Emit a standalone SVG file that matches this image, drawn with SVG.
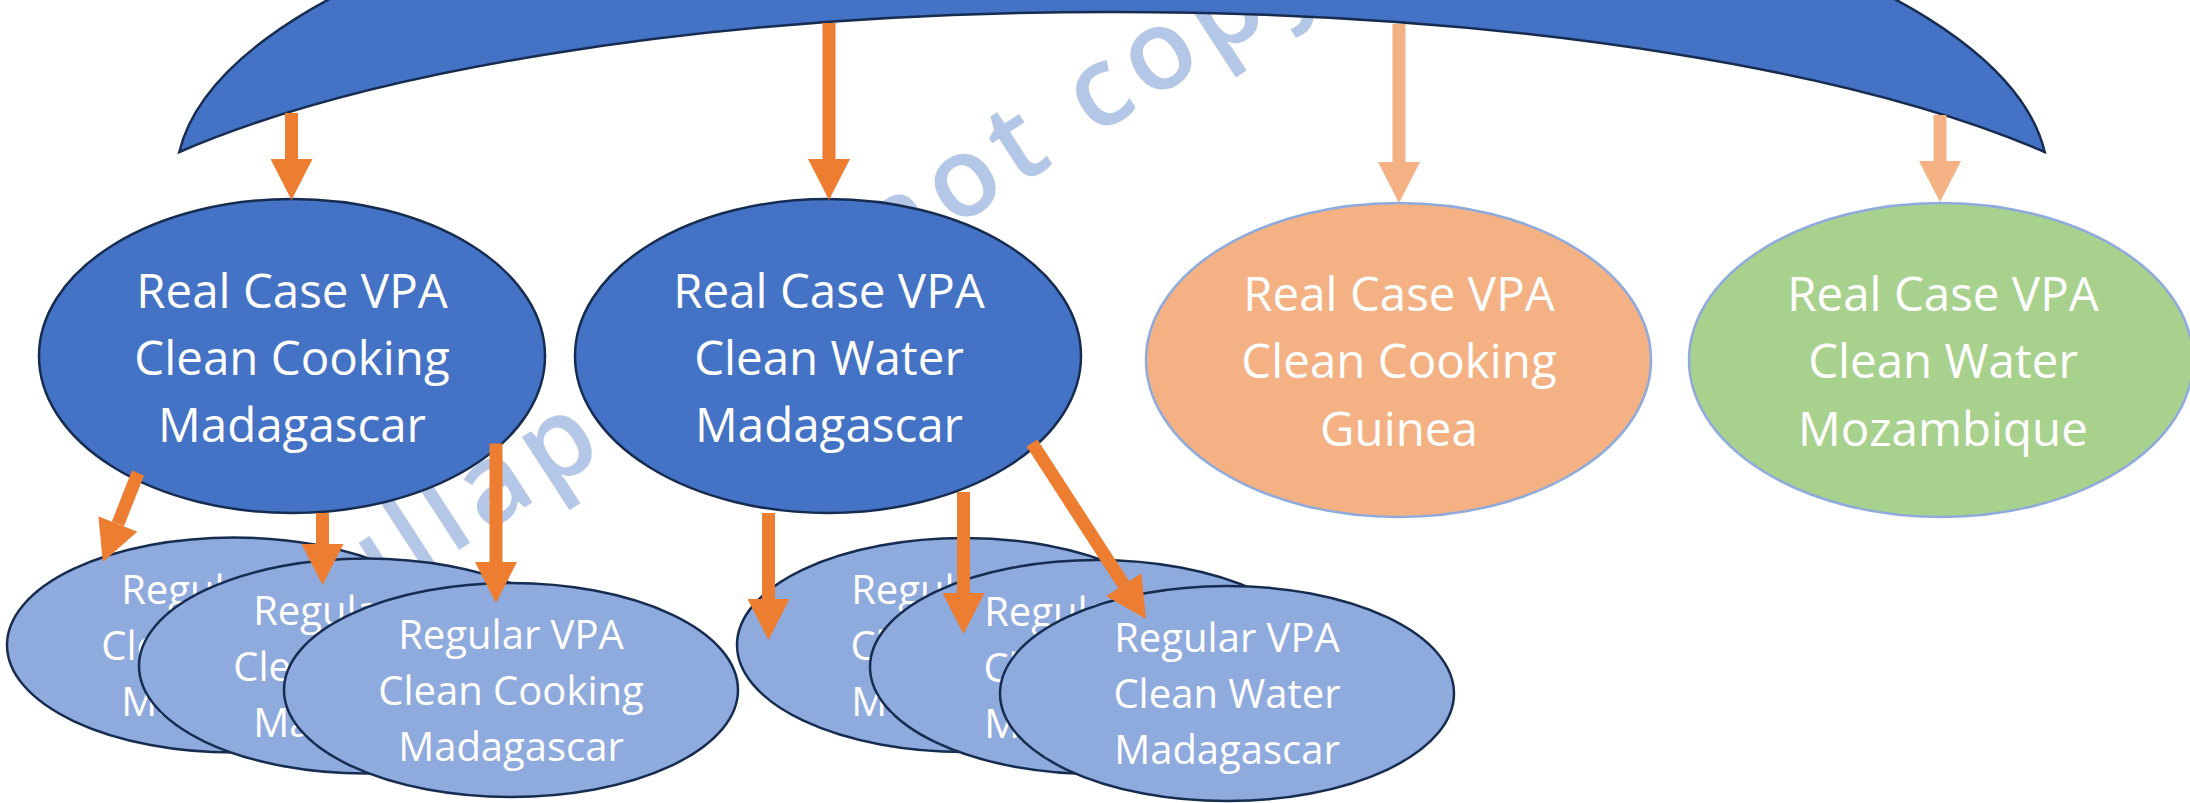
<svg xmlns="http://www.w3.org/2000/svg" width="2190" height="803" viewBox="0 0 2190 803">
  <style>
    .lbl { font-family: "Open Sans", "Liberation Sans", sans-serif; fill: #ffffff; text-anchor: middle; }
    .big { font-size: 47.5px; }
    .small { font-size: 40px; }
    .real { fill: #4472C4; stroke: #172C51; stroke-width: 2.5; }
    .guinea { fill: #F4B183; stroke: #8FAADC; stroke-width: 2.5; }
    .moz { fill: #A9D18E; stroke: #8FAADC; stroke-width: 2.5; }
    .regular { fill: #8FAADC; stroke: #172C51; stroke-width: 2.5; }
    .mark { font-family: "Open Sans", "Liberation Sans", sans-serif; font-size: 112px; font-weight: 600; fill: #B4C7E7; letter-spacing: 9px; }
    .arr { stroke: #ED7D31; stroke-width: 13; fill: none; marker-end: url(#head); }
    .arr-lt { stroke: #F4B183; stroke-width: 13; fill: none; marker-end: url(#head-lt); }
  </style>
  <defs>
    <marker id="head" markerUnits="userSpaceOnUse" markerWidth="41" markerHeight="42" viewBox="0 0 41 42" refX="0" refY="21" orient="auto">
      <path d="M0,0 L41,21 L0,42 Z" fill="#ED7D31"/>
    </marker>
    <marker id="head-lt" markerUnits="userSpaceOnUse" markerWidth="41" markerHeight="42" viewBox="0 0 41 42" refX="0" refY="21" orient="auto">
      <path d="M0,0 L41,21 L0,42 Z" fill="#F4B183"/>
    </marker>
  </defs>

  <rect width="2190" height="803" fill="#ffffff"/>

  <!-- background watermark, sits under every shape -->
  <g id="watermark">
    <text class="mark" transform="translate(350.6 620.4) rotate(-33)">ullap</text>
    <text class="mark" transform="translate(885.8 272.9) rotate(-33)">not copy</text>
  </g>

  <!-- curved banner along the top -->
  <g id="banner">
    <path class="real" d="M179.3,152 A936,329 0 0 1 2044.7,152 A1100,298 0 0 0 179.3,152 Z"/>
  </g>

  <g id="real-cooking-madagascar">
    <ellipse class="real" cx="292" cy="356" rx="253" ry="157"/>
    <text class="lbl big" x="292" y="308">Real Case VPA</text>
    <text class="lbl big" x="292" y="375">Clean Cooking</text>
    <text class="lbl big" x="292" y="442">Madagascar</text>
  </g>

  <g id="real-water-madagascar">
    <ellipse class="real" cx="828" cy="356" rx="253" ry="157"/>
    <text class="lbl big" x="829" y="308">Real Case VPA</text>
    <text class="lbl big" x="829" y="375">Clean Water</text>
    <text class="lbl big" x="829" y="442">Madagascar</text>
  </g>

  <g id="real-cooking-guinea">
    <ellipse class="guinea" cx="1398.5" cy="360" rx="252.5" ry="157"/>
    <text class="lbl big" x="1399" y="311">Real Case VPA</text>
    <text class="lbl big" x="1399" y="378">Clean Cooking</text>
    <text class="lbl big" x="1399" y="446">Guinea</text>
  </g>

  <g id="real-water-mozambique">
    <ellipse class="moz" cx="1941" cy="360" rx="252" ry="157"/>
    <text class="lbl big" x="1943" y="311">Real Case VPA</text>
    <text class="lbl big" x="1943" y="378">Clean Water</text>
    <text class="lbl big" x="1943" y="446">Mozambique</text>
  </g>

  <!-- stacked regular VPAs, clean cooking -->
  <g id="regular-cooking-1">
    <ellipse class="regular" cx="234" cy="645" rx="227" ry="107.5"/>
    <text class="lbl small" x="234" y="604">Regular VPA</text>
    <text class="lbl small" x="234" y="660">Clean Cooking</text>
    <text class="lbl small" x="234" y="716">Madagascar</text>
  </g>
  <g id="regular-cooking-2">
    <ellipse class="regular" cx="366" cy="666" rx="227" ry="107.5"/>
    <text class="lbl small" x="366" y="625">Regular VPA</text>
    <text class="lbl small" x="366" y="681">Clean Cooking</text>
    <text class="lbl small" x="366" y="737">Madagascar</text>
  </g>
  <g id="regular-cooking-3">
    <ellipse class="regular" cx="511" cy="690" rx="227" ry="107"/>
    <text class="lbl small" x="511" y="649">Regular VPA</text>
    <text class="lbl small" x="511" y="705">Clean Cooking</text>
    <text class="lbl small" x="511" y="761">Madagascar</text>
  </g>

  <!-- stacked regular VPAs, clean water -->
  <g id="regular-water-1">
    <ellipse class="regular" cx="964" cy="645" rx="227" ry="107"/>
    <text class="lbl small" x="964" y="604">Regular VPA</text>
    <text class="lbl small" x="964" y="660">Clean Water</text>
    <text class="lbl small" x="964" y="716">Madagascar</text>
  </g>
  <g id="regular-water-2">
    <ellipse class="regular" cx="1097" cy="667" rx="227" ry="107"/>
    <text class="lbl small" x="1097" y="626">Regular VPA</text>
    <text class="lbl small" x="1097" y="682">Clean Water</text>
    <text class="lbl small" x="1097" y="738">Madagascar</text>
  </g>
  <g id="regular-water-3">
    <ellipse class="regular" cx="1227" cy="693.5" rx="227" ry="107.5"/>
    <text class="lbl small" x="1227" y="652">Regular VPA</text>
    <text class="lbl small" x="1227" y="708">Clean Water</text>
    <text class="lbl small" x="1227" y="764">Madagascar</text>
  </g>

  <!-- arrows: each line stops at the base of its head -->
  <g id="connectors">
    <line class="arr" x1="291.5" y1="113" x2="291.5" y2="159"/>
    <line class="arr" x1="829" y1="23" x2="829" y2="159"/>
    <line class="arr-lt" x1="1399" y1="24" x2="1399" y2="162"/>
    <line class="arr-lt" x1="1940" y1="115" x2="1940" y2="161"/>

    <line class="arr" x1="138" y1="473" x2="117.9" y2="523.9"/>
    <line class="arr" x1="322.5" y1="513" x2="322.5" y2="544"/>
    <line class="arr" x1="496" y1="443.5" x2="496" y2="562"/>

    <line class="arr" x1="768.5" y1="513" x2="768.5" y2="599"/>
    <line class="arr" x1="963.5" y1="492" x2="963.5" y2="593"/>
    <line class="arr" x1="1032" y1="443" x2="1123.7" y2="584.6"/>
  </g>
</svg>
